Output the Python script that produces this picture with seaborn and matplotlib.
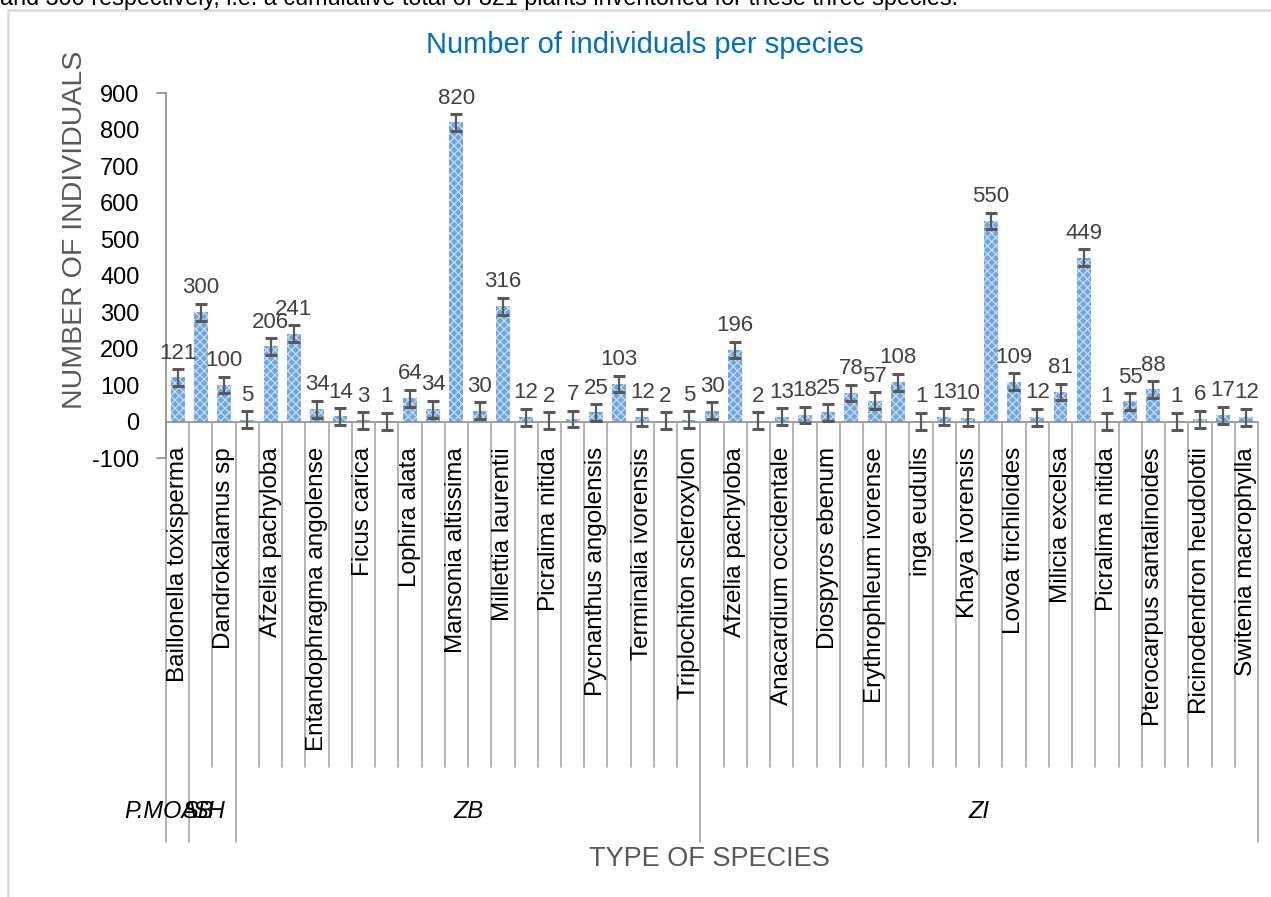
import numpy as np
import pandas as pd
import matplotlib
matplotlib.use("Agg")
import matplotlib.pyplot as plt
import matplotlib.transforms as mtransforms
import seaborn as sns

# -------------------------------
# DATA
# -------------------------------
values = [121, 300, 100, 5, 206, 241, 34, 14, 3, 1, 64, 34, 820, 30, 316, 12, 2, 7,
          25, 103, 12, 2, 5, 30, 196, 2, 13, 18, 25, 78, 57, 108, 1, 13, 10, 550,
          109, 12, 81, 449, 1, 55, 88, 1, 6, 17, 12]

species = ["Baillonella toxisperma", "", "Dandrokalamus sp", "", "Afzelia pachyloba", "",
           "Entandophragma angolense", "", "Ficus carica", "", "Lophira alata", "",
           "Mansonia altissima", "", "Millettia laurentii", "", "Picralima nitida", "",
           "Pycnanthus angolensis", "", "Terminalia ivorensis", "", "Triplochiton scleroxylon",
           "", "Afzelia pachyloba", "", "Anacardium occidentale", "", "Diospyros ebenum", "",
           "Erythrophleum ivorense", "", "inga eudulis", "", "Khaya ivorensis", "",
           "Lovoa trichiloides", "", "Milicia excelsa", "", "Picralima nitida", "",
           "Pterocarpus santalinoides", "", "Ricinodendron heudolotii", "", "Switenia macrophylla"]

group_names = [["P.MOA"], ["SB", "SH"], ["ZB"], ["ZI"]]
group_sizes = [1, 2, 20, 24]
err = 23

y_ticks = [-100, 0, 100, 200, 300, 400, 500, 600, 700, 800, 900]

df = pd.DataFrame({"pos": range(len(values)), "species": species, "n": values})

# -------------------------------
# STYLE
# -------------------------------
sns.set_style("white")
plt.rcParams["font.family"] = ["Liberation Sans", "DejaVu Sans"]
plt.rcParams["axes.unicode_minus"] = False
plt.rcParams["hatch.linewidth"] = 0.8
W, H = 1271, 897
fig = plt.figure(figsize=(W / 100, H / 100), dpi=100)

ax_l, ax_r, ax_t, ax_b = 166, 1258, 93.3, 458
ax = fig.add_axes([ax_l / W, 1 - ax_b / H, (ax_r - ax_l) / W, (ax_b - ax_t) / H])

sns.barplot(data=df, x="pos", y="n", color="#6EA6DD", width=0.6,
            saturation=1, ax=ax, linewidth=0)
for p in ax.patches:
    p.set_hatch("xxxx")
    p.set_edgecolor("#CFE2F6")
    p.set_linewidth(0)

xs = np.array([p.get_x() + p.get_width() / 2 for p in ax.patches])
ax.errorbar(xs, values, yerr=err, fmt="none", ecolor="#595959",
            elinewidth=1.6, capsize=4.3, capthick=2.2, zorder=4)

for x, v in zip(xs, values):
    ax.annotate(str(v), (x, v), xytext=(0, 10), textcoords="offset points",
                ha="center", va="bottom", fontsize=16, color="#404040")

ax.set_xlim(-0.5, len(values) - 0.5)
ax.set_ylim(-100, 900)
ax.set_yticks(y_ticks)
ax.tick_params(axis="y", length=0, pad=19, labelsize=17, labelcolor="black")
ax.set_xticks([])
ax.set_xlabel("")
ax.set_ylabel("")
for s in ["top", "right", "bottom"]:
    ax.spines[s].set_visible(False)
ax.spines["left"].set_color("#8C8C8C")
ax.spines["left"].set_linewidth(1.2)

line_kw = dict(color="#A6A6A6", lw=1.2, clip_on=False)
# zero line / category axis
ax.plot([-0.5, len(values) - 0.5], [0, 0], color="#8C8C8C", lw=1.2, clip_on=False)
# end stubs on value axis
trans_y = mtransforms.blended_transform_factory(ax.transAxes, ax.transData)
for yv in [900, -100]:
    ax.plot([-0.008, 0], [yv, yv], transform=trans_y, color="#8C8C8C", lw=1.2, clip_on=False)

trans = mtransforms.blended_transform_factory(ax.transData, ax.transAxes)
y0 = 100 / 1000
y_short = (ax_b - 767) / (ax_b - ax_t)
y_long = (ax_b - 842) / (ax_b - ax_t)
y_lab = (ax_b - 447) / (ax_b - ax_t)
y_grp = (ax_b - 811) / (ax_b - ax_t)

bounds = np.cumsum([0] + group_sizes) - 0.5
for i in range(len(values) + 1):
    xb = i - 0.5
    ybot = y_long if xb in bounds else y_short
    ax.plot([xb, xb], [y0, ybot], transform=trans, **line_kw)

for x, name in zip(xs, species):
    if name:
        ax.text(x, y_lab, name, transform=trans, rotation=90, ha="center", va="top",
                fontsize=17.5, color="black")

grp_offsets = [[-0.72], [-0.6, -0.15], [0.0], [0.0]]
for names, offs, lo, hi in zip(group_names, grp_offsets, bounds[:-1], bounds[1:]):
    c = (lo + hi) / 2
    for nm, o in zip(names, offs):
        ax.text(c + o, y_grp, nm, transform=trans, ha="center", va="center",
                fontsize=17, style="italic", color="black")

# titles
fig.text(645 / W, 1 - 45 / H, "Number of individuals per species", ha="center", va="center",
         fontsize=21, color="#0070C0")
fig.text(75 / W, 1 - 230 / H, "NUMBER OF INDIVIDUALS", rotation=90, ha="center", va="center",
         fontsize=20.5, color="#595959")
fig.text(709 / W, 1 - 859 / H, "TYPE OF SPECIES", ha="center", va="center",
         fontsize=19.5, color="#595959")

# chart frame and clipped text line above
fig.add_artist(plt.Line2D([8 / W, 8 / W], [0, 1 - 10 / H], color="#D9D9D9", lw=1.8))
fig.add_artist(plt.Line2D([8 / W, 1], [1 - 10 / H, 1 - 10 / H], color="#D9D9D9", lw=1.8))
fig.text(0, 1 - 4.5 / H, "and 300 respectively, i.e. a cumulative total of 821 plants inventoried for these three species.",
         ha="left", va="baseline", fontsize=16.8, color="black")

fig.savefig("out.png", dpi=100)
